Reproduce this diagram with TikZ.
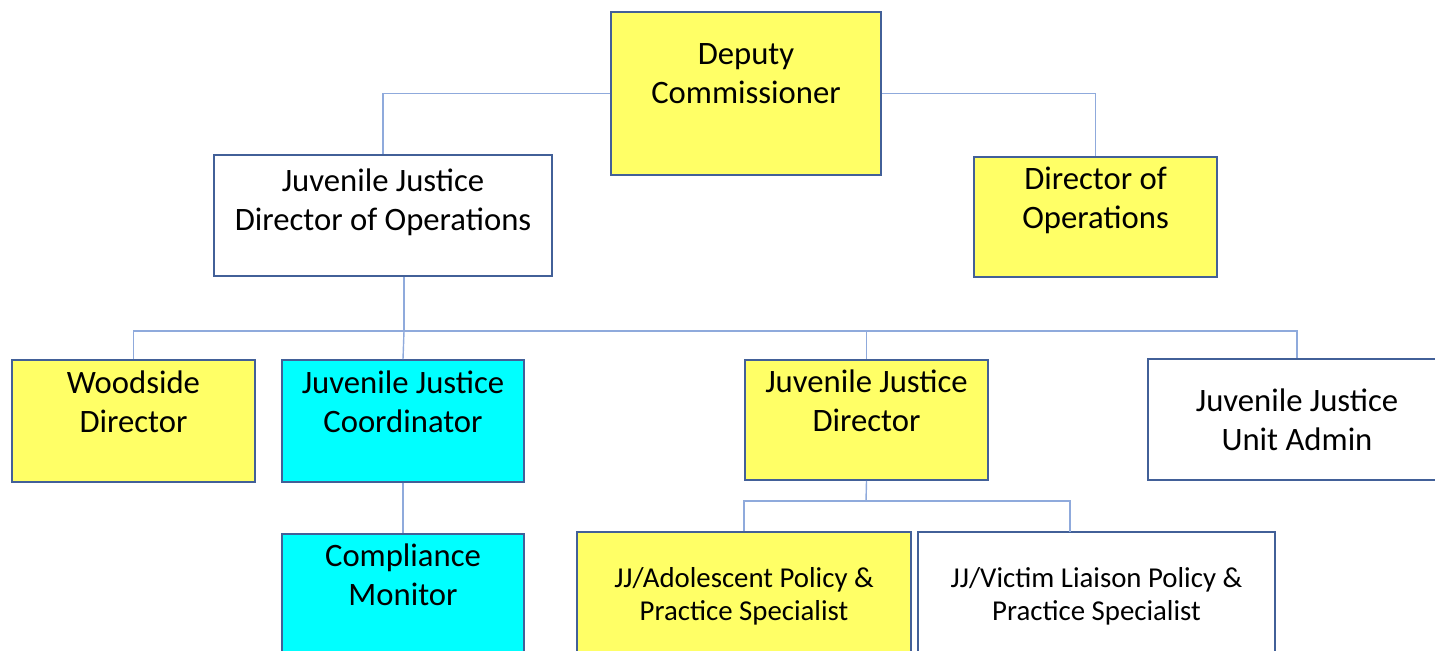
\documentclass[tikz,border=0pt]{standalone}
\usepackage{fontspec}
\setmainfont{Carlito}
\usepackage{tikz}
\definecolor{boxline}{RGB}{66,96,152}
\definecolor{linkline}{RGB}{143,170,220}
\definecolor{ylw}{RGB}{255,255,102}
\definecolor{cyn}{RGB}{0,255,255}
\newcommand{\lowertext}[1]{\rule{0pt}{#1}}

\begin{document}
\begin{tikzpicture}[x=0.02cm,y=-0.02cm,
  box/.style={draw=boxline,line width=1.1pt,rectangle,align=center,inner sep=0pt,
    font=\fontsize{18.6}{22.2}\selectfont},
  smallbox/.style={box,font=\fontsize{16.4}{18.8}\selectfont},
  link/.style={draw=linkline,line width=0.8pt}]
\useasboundingbox (0,0) rectangle (1435,651);
\clip (0,0) rectangle (1435,651);

\node [box,fill=ylw,minimum width=270*0.02cm,minimum height=163*0.02cm] (dep) at (746,93.5) {Deputy\\Commissioner\\~};
\node [box,fill=white,minimum width=338*0.02cm,minimum height=121*0.02cm] (jjdo) at (383,215.5) {\lowertext{17.5pt}Juvenile Justice\\Director of Operations\\~};
\node [box,fill=ylw,minimum width=243*0.02cm,minimum height=120*0.02cm] (dops) at (1095.5,217) {Director of\\Operations\\~};

\node [box,fill=ylw,minimum width=243*0.02cm,minimum height=122*0.02cm] (wood) at (133.5,421) {Woodside\\Director\\~};
\node [box,fill=cyn,minimum width=242*0.02cm,minimum height=122*0.02cm] (coord) at (403,421) {Juvenile Justice\\Coordinator\\~};
\node [box,fill=ylw,minimum width=243*0.02cm,minimum height=120*0.02cm] (jjdir) at (866.5,420) {Juvenile Justice\\Director\\~};
\node [box,fill=white,minimum width=298*0.02cm,minimum height=121*0.02cm] (admin) at (1297,419.5) {Juvenile Justice\\Unit Admin};

\node [box,fill=cyn,minimum width=242*0.02cm,minimum height=120*0.02cm] (monitor) at (403,594) {Compliance\\Monitor\\~};
\node [smallbox,fill=ylw,minimum width=334*0.02cm,minimum height=120*0.02cm] (adol) at (744,592) {\lowertext{16pt}JJ/Adolescent Policy \&\\Practice Specialist};
\node [smallbox,fill=white,minimum width=357*0.02cm,minimum height=120*0.02cm] (victim) at (1096.5,592) {\lowertext{16pt}JJ/Victim Liaison Policy \&\\Practice Specialist};

\coordinate (bus) at (404,331);
\coordinate (sub) at (866,501);
\coordinate (vdrop) at (1070,532);

\draw[link] (dep.west) -| (jjdo.north);
\draw[link] (dep.east) -| (dops.north);
\draw[link] (jjdo.south -| bus) -- (bus);
\draw[link] (wood.north) |- (bus) -| (admin.north);
\draw[link] (bus) -- (coord.north);
\draw[link] (jjdir.north |- bus) -- (jjdir.north);
\draw[link] (coord.south) -- (monitor.north);
\draw[link] (jjdir.south) -- (sub);
\draw[link] (adol.north) |- (sub) -| (vdrop);
\end{tikzpicture}
\end{document}
